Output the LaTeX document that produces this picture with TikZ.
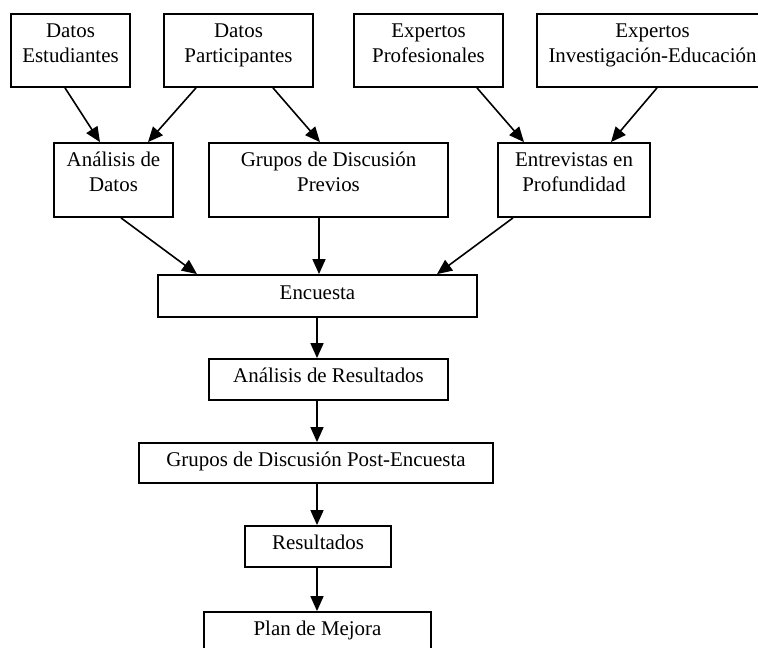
\documentclass[tikz,border=0pt]{standalone}
\usepackage{fontspec}
\setmainfont{Liberation Serif}
\usetikzlibrary{arrows.meta}
\begin{document}
\begin{tikzpicture}[x=1bp,y=-1bp,
  box/.style={draw=black, line width=1.8bp, inner sep=0pt, align=center,
    font=\fontsize{21}{25}\selectfont},
  twoline/.style={box, text height=39bp, text depth=15.5bp, minimum height=73bp},
  oneline/.style={box, text height=14bp, text depth=8bp, minimum height=41bp},
  arr/.style={line width=1.6bp, -{Triangle[length=15bp,width=13bp]}}
]
\useasboundingbox (0,0) rectangle (758,648);
% top row
\node[twoline, minimum width=119bp] (es) at (70.5,50.5) {Datos\\Estudiantes};
\node[twoline, minimum width=149bp] (dp) at (238.5,50.5) {Datos\\Participantes};
\node[twoline, minimum width=149bp] (ep) at (428.5,50.5) {Expertos\\Profesionales};
\node[twoline, minimum width=231bp] (ei) at (652.5,50.5) {Expertos\\Investigación-Educación};
% second row
\node[twoline, minimum width=119bp, minimum height=74bp] (ad) at (113.5,180) {Análisis de\\Datos};
\node[twoline, minimum width=239bp, minimum height=74bp] (gp) at (328.5,180) {Grupos de Discusión\\Previos};
\node[twoline, minimum width=152bp, minimum height=74bp] (en) at (574,180) {Entrevistas en\\Profundidad};
% chain
\node[oneline, minimum width=319bp, minimum height=42bp] (enc) at (317.5,296) {Encuesta};
\node[oneline, minimum width=239bp] (ar) at (328.5,379.5) {Análisis de Resultados};
\node[oneline, minimum width=354bp, minimum height=40bp] (gpe) at (316,463) {Grupos de Discusión Post-Encuesta};
\node[oneline, minimum width=146bp] (res) at (318,546.5) {Resultados};
\node[oneline, minimum width=227bp, minimum height=40bp] (pm) at (317.5,632) {Plan de Mejora};
% arrows
\draw[arr] ([xshift=-5.5bp]es.south) -- ([xshift=-13.5bp]ad.north);
\draw[arr] ([xshift=-42.5bp]dp.south) -- ([xshift=34.5bp]ad.north);
\draw[arr] ([xshift=34.5bp]dp.south) -- ([xshift=-8.5bp]gp.north);
\draw[arr] ([xshift=48.5bp]ep.south) -- ([xshift=-50bp]en.north);
\draw[arr] ([xshift=4.5bp]ei.south) -- ([xshift=37bp]en.north);
\draw[arr] ([xshift=7.5bp]ad.south) -- ([xshift=-120.5bp]enc.north);
\draw[arr] ([xshift=-9.5bp]gp.south) -- ([xshift=1.5bp]enc.north);
\draw[arr] ([xshift=-61bp]en.south) -- ([xshift=119.5bp]enc.north);
\draw[arr] ([xshift=-0.5bp]enc.south) -- ([xshift=-11.5bp]ar.north);
\draw[arr] ([xshift=-11.5bp]ar.south) -- ([xshift=1bp]gpe.north);
\draw[arr] ([xshift=1bp]gpe.south) -- ([xshift=-1bp]res.north);
\draw[arr] ([xshift=-1bp]res.south) -- ([xshift=-0.5bp]pm.north);
\end{tikzpicture}
\end{document}
